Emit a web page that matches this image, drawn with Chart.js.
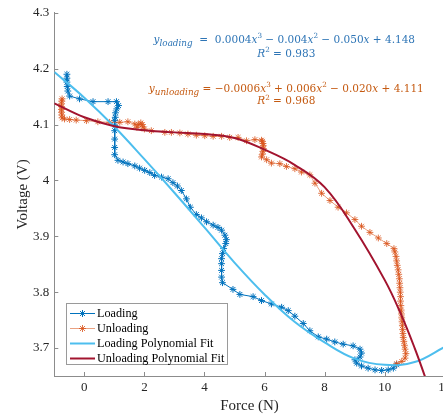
<!DOCTYPE html>
<html>
<head>
<meta charset="utf-8">
<script src="https://cdn.jsdelivr.net/npm/chart.js@4.4.1/dist/chart.umd.min.js"></script>
<style>
  html, body { margin: 0; padding: 0; background: #fff; overflow: hidden; }
  #wrap { width: 443px; height: 417px; overflow: hidden; }
  canvas { display: block; }
</style>
</head>
<body>
<div id="wrap"><canvas id="chart" width="460" height="417"></canvas></div>
<script>
// Measured loading path (force in N, voltage in V)
const loadForce = [-0.58, -0.58, -0.58, -0.57, -0.55, -0.49, -0.16, 0.29, 0.79, 1.07,
  1.14, 1.08, 1.04, 1.03, 1.01, 1.02, 1.01, 1.01, 1.01, 1.01,
  1.12, 1.29, 1.45, 1.68, 1.84, 2.01, 2.18, 2.34, 2.57, 2.79,
  2.95, 3.10, 3.23, 3.40, 3.53, 3.73, 3.90, 4.07, 4.29, 4.45,
  4.57, 4.68, 4.73, 4.71, 4.64, 4.60, 4.57, 4.57, 4.57, 4.57,
  4.60, 4.95, 5.18, 5.62, 5.90, 6.23, 6.57, 6.79, 7.01, 7.29,
  7.51, 7.79, 8.07, 8.34, 8.62, 8.95, 9.18, 9.23, 9.18, 9.01,
  9.07, 9.23, 9.45, 9.68, 9.90, 10.12, 10.29, 10.40];
const loadVolt = [4.190, 4.183, 4.176, 4.168, 4.160, 4.151, 4.146, 4.141, 4.141, 4.141,
  4.134, 4.128, 4.121, 4.113, 4.107, 4.098, 4.089, 4.074, 4.059, 4.046,
  4.036, 4.033, 4.030, 4.026, 4.022, 4.018, 4.014, 4.009, 4.006, 4.003,
  3.996, 3.990, 3.982, 3.967, 3.952, 3.939, 3.933, 3.926, 3.920, 3.916,
  3.911, 3.902, 3.894, 3.887, 3.878, 3.869, 3.860, 3.851, 3.839, 3.827,
  3.817, 3.805, 3.796, 3.792, 3.785, 3.779, 3.773, 3.767, 3.757, 3.744,
  3.731, 3.720, 3.716, 3.711, 3.707, 3.704, 3.698, 3.691, 3.684, 3.679,
  3.673, 3.668, 3.664, 3.661, 3.660, 3.661, 3.664, 3.670];

// Measured unloading path
const unloadForce = [10.40, 10.57, 10.68, 10.71, 10.68, 10.66, 10.64, 10.62, 10.61, 10.60,
  10.59, 10.58, 10.57, 10.56, 10.55, 10.54, 10.53, 10.53, 10.52, 10.51,
  10.50, 10.49, 10.47, 10.45, 10.42, 10.40, 10.38, 10.34, 10.31, 10.07,
  9.79, 9.51, 9.23, 9.01, 8.73, 8.45, 8.18, 7.90, 7.68, 7.51,
  7.23, 7.01, 6.73, 6.51, 6.23, 6.07, 5.90, 5.93, 5.95, 5.96,
  5.96, 5.95, 5.93, 5.90, 5.68, 5.40, 5.12, 4.84, 4.57, 4.29,
  4.01, 3.73, 3.45, 3.18, 2.90, 2.68, 2.23, 2.00, 1.95, 1.93,
  1.88, 1.80, 1.75, 1.68, 1.45, 1.18, 0.84, 0.45, 0.07, -0.27,
  -0.49, -0.66, -0.74, -0.75, -0.76, -0.76, -0.76, -0.76, -0.75, -0.74];
const unloadVolt = [3.672, 3.676, 3.682, 3.690, 3.698, 3.705, 3.712, 3.719, 3.726, 3.733,
  3.740, 3.747, 3.754, 3.761, 3.768, 3.776, 3.784, 3.792, 3.800, 3.808,
  3.816, 3.824, 3.832, 3.840, 3.848, 3.856, 3.864, 3.872, 3.878, 3.887,
  3.897, 3.907, 3.918, 3.930, 3.942, 3.952, 3.964, 3.977, 3.995, 4.010,
  4.015, 4.021, 4.025, 4.030, 4.031, 4.037, 4.042, 4.047, 4.052, 4.057,
  4.062, 4.066, 4.070, 4.072, 4.073, 4.071, 4.077, 4.077, 4.079, 4.079,
  4.080, 4.081, 4.083, 4.085, 4.086, 4.086, 4.089, 4.092, 4.096, 4.100,
  4.103, 4.100, 4.095, 4.101, 4.105, 4.104, 4.104, 4.105, 4.107, 4.108,
  4.109, 4.110, 4.112, 4.117, 4.122, 4.127, 4.132, 4.137, 4.142, 4.146];

// Polynomial fit curves, sampled
const loadFitForce = [-1, 0, 1, 2, 3, 4, 5, 6, 7, 8, 9, 10, 11, 12];
const loadFitVolt = [4.194, 4.148, 4.096, 4.038, 3.978, 3.916, 3.853, 3.796, 3.747, 3.710, 3.681, 3.670, 3.675, 3.702];
const unloadFitForce = [-1, 0, 1, 2, 3, 4, 5, 6, 7, 8, 9, 10, 10.5, 11, 11.35];
const unloadFitVolt = [4.138, 4.113, 4.097, 4.090, 4.086, 4.083, 4.076, 4.055, 4.028, 3.988, 3.913, 3.822, 3.766, 3.700, 3.648];

const xTicks = [0, 2, 4, 6, 8, 10, 12];
const xTickLabels = ['0', '2', '4', '6', '8', '10', '12'];
const yTicks = [3.7, 3.8, 3.9, 4.0, 4.1, 4.2, 4.3];
const yTickLabels = ['3.7', '3.8', '3.9', '4', '4.1', '4.2', '4.3'];

const SERIF = "'Liberation Serif', 'Times New Roman', serif";
const MATH = "'DejaVu Serif', serif";
const AXIS = '#8c8c8c';
const BLUE = '#0072BD';
const ORANGE = '#D95319';
const LIGHTBLUE = '#4DBEEE';
const DARKRED = '#A2142F';

const pts = (xs, ys) => xs.map((x, i) => ({ x, y: ys[i] }));

// small tick marks pointing into the plot area
const insideTicks = {
  id: 'insideTicks',
  afterDatasetsDraw(chart) {
    const { ctx, chartArea: a, scales: { x, y } } = chart;
    ctx.save();
    ctx.strokeStyle = AXIS;
    ctx.lineWidth = 1;
    ctx.beginPath();
    xTicks.forEach(v => {
      const px = Math.round(x.getPixelForValue(v)) + 0.5;
      ctx.moveTo(px, a.bottom);
      ctx.lineTo(px, a.bottom - 4);
    });
    yTicks.forEach(v => {
      const py = Math.round(y.getPixelForValue(v)) + 0.5;
      ctx.moveTo(a.left, py);
      ctx.lineTo(a.left + 4, py);
    });
    ctx.stroke();
    ctx.restore();
  }
};

function drawStar(ctx, x, y, r) {
  const d = r * Math.SQRT1_2;
  ctx.beginPath();
  ctx.moveTo(x - r, y); ctx.lineTo(x + r, y);
  ctx.moveTo(x, y - r); ctx.lineTo(x, y + r);
  ctx.moveTo(x - d, y - d); ctx.lineTo(x + d, y + d);
  ctx.moveTo(x - d, y + d); ctx.lineTo(x + d, y - d);
  ctx.stroke();
}

// draws a line of mixed italic / sub / superscript text centred on cx
function drawRuns(ctx, runs, cx, baseline, color) {
  const size = 10.5;
  const fontOf = r => (r.it ? 'italic ' : '') + (r.sub ? 8.8 : r.sup ? 7.2 : size) + 'px ' + MATH;
  let total = 0;
  runs.forEach(r => { ctx.font = fontOf(r); total += ctx.measureText(r.t).width; });
  let x = cx - total / 2;
  ctx.fillStyle = color;
  ctx.textAlign = 'left';
  ctx.textBaseline = 'alphabetic';
  runs.forEach(r => {
    ctx.font = fontOf(r);
    const dy = r.sub ? 3 : r.sup ? -4.5 : 0;
    ctx.fillText(r.t, x, baseline + dy);
    x += ctx.measureText(r.t).width;
  });
}

const eqLoading = [
  { t: 'y', it: true }, { t: 'loading', it: true, sub: true }, { t: '  =  0.0004' }, { t: 'x', it: true }, { t: '3', sup: true },
  { t: ' − 0.004' }, { t: 'x', it: true }, { t: '2', sup: true }, { t: ' − 0.050' }, { t: 'x', it: true }, { t: ' + 4.148' }
];
const r2Loading = [{ t: 'R', it: true }, { t: '2', sup: true }, { t: ' = 0.983' }];
const eqUnloading = [
  { t: 'y', it: true }, { t: 'unloading', it: true, sub: true }, { t: ' = −0.0006' }, { t: 'x', it: true }, { t: '3', sup: true },
  { t: ' + 0.006' }, { t: 'x', it: true }, { t: '2', sup: true }, { t: ' − 0.020' }, { t: 'x', it: true }, { t: ' + 4.111' }
];
const r2Unloading = [{ t: 'R', it: true }, { t: '2', sup: true }, { t: ' = 0.968' }];

const annotations = {
  id: 'annotations',
  afterDraw(chart) {
    const { ctx, chartArea: a } = chart;
    ctx.save();
    const cx = a.left + 230;
    drawRuns(ctx, eqLoading, cx, a.top + 29.7, '#2E75B6');
    drawRuns(ctx, r2Loading, cx + 2, a.top + 43.7, '#2E75B6');
    drawRuns(ctx, eqUnloading, cx + 2, a.top + 78.7, '#C55A11');
    drawRuns(ctx, r2Unloading, cx + 2, a.top + 91.3, '#C55A11');

    // legend box, lower left of the axes
    const sets = chart.data.datasets;
    ctx.font = '12.2px ' + SERIF;
    const textW = Math.max(...sets.map(d => ctx.measureText(d.label).width));
    const bx = Math.round(a.left + 12) + 0.5;
    const bh = 61;
    const by = Math.round(a.bottom - 12 - bh) + 0.5;
    const bw = Math.round(30.5 + textW + 3);
    ctx.fillStyle = '#fff';
    ctx.fillRect(bx, by, bw, bh);
    ctx.strokeStyle = '#9a9a9a';
    ctx.lineWidth = 1;
    ctx.strokeRect(bx, by, bw, bh);
    sets.forEach((d, i) => {
      const ry = by + 10 + i * 15;
      ctx.strokeStyle = d.borderColor;
      ctx.lineWidth = d.borderWidth;
      ctx.beginPath();
      ctx.moveTo(bx + 3.5, ry);
      ctx.lineTo(bx + 28.5, ry);
      ctx.stroke();
      if (d.pointRadius > 0) {
        ctx.strokeStyle = d.pointBorderColor;
        ctx.lineWidth = 1;
        drawStar(ctx, bx + 16, ry, 3.5);
      }
      ctx.fillStyle = '#000';
      ctx.textBaseline = 'middle';
      ctx.fillText(d.label, bx + 30.5, ry + 0.5);
    });
    ctx.restore();
  }
};

new Chart(document.getElementById('chart'), {
  type: 'scatter',
  data: {
    datasets: [
      {
        label: 'Loading', data: pts(loadForce, loadVolt), showLine: true, order: 3,
        borderColor: BLUE, borderWidth: 1, pointStyle: 'star', pointRadius: 3.4,
        pointBorderColor: BLUE, pointBorderWidth: 1, pointBackgroundColor: BLUE
      },
      {
        label: 'Unloading', data: pts(unloadForce, unloadVolt), showLine: true, order: 2,
        borderColor: 'rgba(217,83,25,0.55)', borderWidth: 1, pointStyle: 'star', pointRadius: 3.4,
        pointBorderColor: 'rgba(217,83,25,0.8)', pointBorderWidth: 1, pointBackgroundColor: ORANGE
      },
      {
        label: 'Loading Polynomial Fit', data: pts(loadFitForce, loadFitVolt), showLine: true, order: 1,
        borderColor: LIGHTBLUE, borderWidth: 2, pointRadius: 0, tension: 0.4
      },
      {
        label: 'Unloading Polynomial Fit', data: pts(unloadFitForce, unloadFitVolt), showLine: true, order: 0,
        borderColor: DARKRED, borderWidth: 2, pointRadius: 0, tension: 0.4
      }
    ]
  },
  options: {
    responsive: false,
    animation: false,
    devicePixelRatio: 1,
    events: [],
    layout: { padding: { top: 12, right: 15.3, bottom: 0, left: 0 } },
    plugins: { legend: { display: false }, tooltip: { enabled: false } },
    scales: {
      x: {
        type: 'linear', min: -1, max: 12,
        afterBuildTicks: s => { s.ticks = xTicks.map(v => ({ value: v })); },
        afterFit: s => { s.height = 41; },
        grid: { display: true, drawOnChartArea: false, drawTicks: false },
        border: { display: true, color: AXIS, width: 1 },
        ticks: {
          padding: 4, color: '#262626', maxRotation: 0, autoSkip: false,
          font: { family: SERIF, size: 13 },
          callback: (v, i) => xTickLabels[i]
        },
        title: {
          display: true, text: 'Force (N)', color: '#262626',
          font: { family: SERIF, size: 15 }, padding: { top: 0, bottom: 2 }
        }
      },
      y: {
        type: 'linear', min: 3.65, max: 4.3,
        afterBuildTicks: s => { s.ticks = yTicks.map(v => ({ value: v })); },
        afterFit: s => { s.width = 54.3; },
        grid: { display: true, drawOnChartArea: false, drawTicks: false },
        border: { display: true, color: AXIS, width: 1 },
        ticks: {
          padding: 5, color: '#262626', autoSkip: false,
          font: { family: SERIF, size: 13 },
          callback: (v, i) => yTickLabels[i]
        },
        title: {
          display: true, text: 'Voltage (V)', color: '#262626',
          font: { family: SERIF, size: 15 }, padding: { top: 14, bottom: 0 }
        }
      }
    }
  },
  plugins: [insideTicks, annotations]
});
</script>
</body>
</html>
